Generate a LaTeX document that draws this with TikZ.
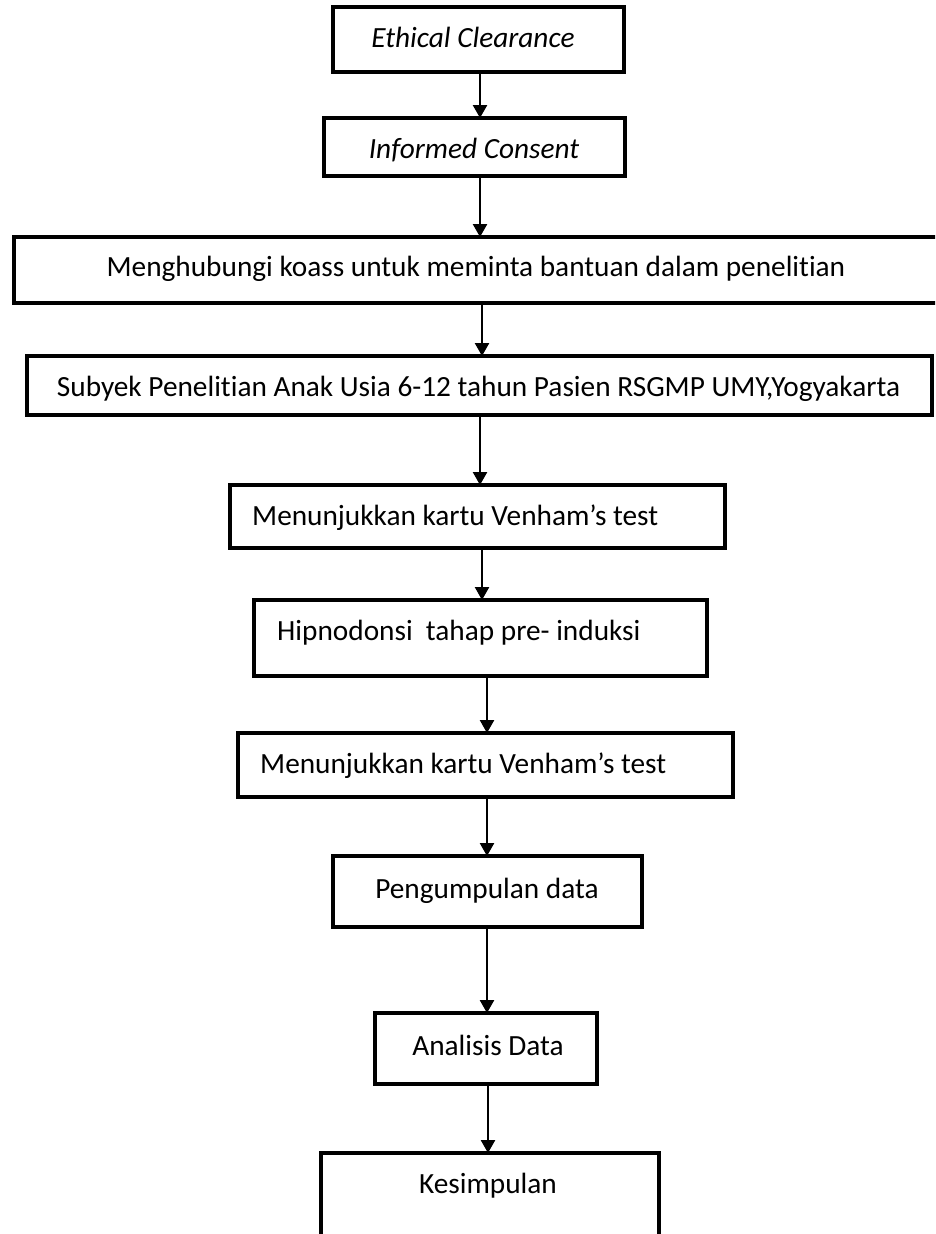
\documentclass[tikz,border=0pt]{standalone}
\usepackage{fontspec}
\setmainfont{Carlito}[Ligatures=NoCommon]
\usetikzlibrary{arrows.meta}
\begin{document}
\begin{tikzpicture}[x=1pt,y=-1pt,
  box/.style={draw,line width=3.5pt,inner sep=0pt,outer sep=0pt,fill=none},
  txt/.style={inner sep=0pt,font=\fontsize{29.3}{35}\selectfont},
  arr/.style={line width=2.5pt,-{Triangle[width=14pt,length=13pt]}}]
\clip (0,0) rectangle (935,1234);
\fill[white] (0,0) rectangle (935,1234);
% boxes
\node[box,minimum width=291pt,minimum height=65pt] (b1) at (478.5,39.5) {};
\node[box,minimum width=301pt,minimum height=58pt] (b2) at (474.5,147) {};
\node[box,minimum width=931pt,minimum height=66pt] (b3) at (479.5,270) {};
\node[box,minimum width=905pt,minimum height=59pt] (b4) at (479.5,385.5) {};
\node[box,minimum width=495pt,minimum height=63pt] (b5) at (477.5,516.5) {};
\node[box,minimum width=453pt,minimum height=76pt] (b6) at (480.5,638) {};
\node[box,minimum width=495pt,minimum height=64pt] (b7) at (485.5,765) {};
\node[box,minimum width=309pt,minimum height=71pt] (b8) at (487.5,891.5) {};
\node[box,minimum width=222pt,minimum height=71pt] (b9) at (486,1048.5) {};
\node[box,minimum width=338pt,minimum height=167pt] (b10) at (490,1236.5) {};
% texts
\node[txt,anchor=base] (t1) at (473,47) {\itshape Ethical Clearance};
\node[txt,anchor=base] (t2) at (474,158) {\itshape Informed Consent};
\node[txt,anchor=base] (t3) at (476,276) {Menghubungi koass untuk meminta bantuan dalam penelitian};
\node[txt,anchor=base] (t4) at (478.5,396) {Subyek Penelitian Anak Usia 6-12 tahun Pasien RSGMP UMY,Yogyakarta};
\node[txt,anchor=base west] (t5) at (252,525) {Menunjukkan kartu Venham’s test};
\node[txt,anchor=base west] (t6) at (277,640) {Hipnodonsi\ \ tahap pre- induksi};
\node[txt,anchor=base west] (t7) at (260,773) {Menunjukkan kartu Venham’s test};
\node[txt,anchor=base] (t8) at (487,898) {Pengumpulan data};
\node[txt,anchor=base] (t9) at (488,1055) {Analisis Data};
\node[txt,anchor=base] (t10) at (488,1193) {Kesimpulan};
% arrows
\draw[arr] ([xshift=1.5pt]b1.south) -- ([xshift=1.5pt]b1.south |- b2.north);
\draw[arr] ([xshift=5.5pt]b2.south) -- ([xshift=5.5pt]b2.south |- b3.north);
\draw[arr] ([xshift=2.5pt]b3.south) -- ([xshift=2.5pt]b3.south |- b4.north);
\draw[arr] ([xshift=0.5pt]b4.south) -- ([xshift=0.5pt]b4.south |- b5.north);
\draw[arr] ([xshift=4.5pt]b5.south) -- ([xshift=4.5pt]b5.south |- b6.north);
\draw[arr] ([xshift=6.5pt]b6.south) -- ([xshift=6.5pt]b6.south |- b7.north);
\draw[arr] ([xshift=1.5pt]b7.south) -- ([xshift=1.5pt]b7.south |- b8.north);
\draw[arr] ([xshift=-0.5pt]b8.south) -- ([xshift=-0.5pt]b8.south |- b9.north);
\draw[arr] ([xshift=2pt]b9.south) -- ([xshift=2pt]b9.south |- b10.north);
\end{tikzpicture}
\end{document}
